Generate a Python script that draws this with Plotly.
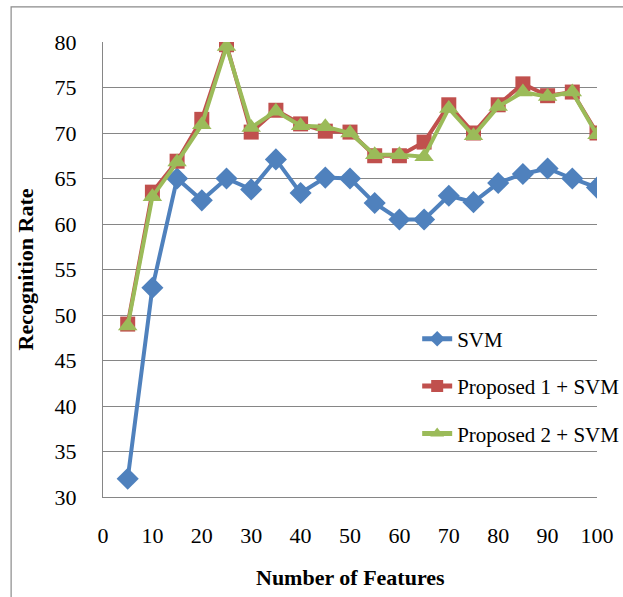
import plotly.graph_objects as go

# Number of features tested
features = [5, 10, 15, 20, 25, 30, 35, 40, 45, 50,
            55, 60, 65, 70, 75, 80, 85, 90, 95, 100]

# Recognition rate (%) per method
svm = [32.0, 53.0, 65.0, 62.6, 65.0, 63.8, 67.1, 63.4, 65.1, 65.0,
       62.3, 60.5, 60.5, 63.1, 62.4, 64.5, 65.5, 66.1, 65.0, 64.0]
proposed1 = [49.0, 63.5, 66.9, 71.5, 79.7, 70.1, 72.5, 71.0, 70.2, 70.1,
             67.5, 67.5, 69.0, 73.1, 70.0, 73.1, 75.4, 74.1, 74.5, 70.0]
proposed2 = [48.8, 63.0, 66.8, 70.9, 79.5, 70.6, 72.4, 70.8, 70.7, 70.0,
             67.6, 67.6, 67.4, 72.7, 69.7, 72.9, 74.5, 74.0, 74.5, 69.8]

names = ["SVM", "Proposed 1 + SVM", "Proposed 2 + SVM"]
x_ticks = [0, 10, 20, 30, 40, 50, 60, 70, 80, 90, 100]
y_ticks = [30, 35, 40, 45, 50, 55, 60, 65, 70, 75, 80]

FONT = "Liberation Serif, Times New Roman, serif"
GRID = "#868686"

series = [
    (svm, names[0], "#4F81BD", "diamond", 17),
    (proposed1, names[1], "#C0504D", "square", 15),
    (proposed2, names[2], "#9BBB59", "triangle-up", 17),
]

fig = go.Figure()
for i, (vals, name, color, sym, size) in enumerate(series):
    fig.add_trace(go.Scatter(
        x=features, y=vals, name=name, mode="lines+markers",
        legendgroup=f"g{i}",
        line=dict(color=color, width=4),
        marker=dict(symbol=sym, size=size, color=color),
    ))

fig.update_layout(
    width=623, height=597,
    margin=dict(l=103, r=26, t=42, b=100, autoexpand=False),
    paper_bgcolor="white", plot_bgcolor="white",
    font=dict(family=FONT, size=22, color="black"),
    showlegend=True,
    legend=dict(
        x=0.636, y=0.392, xanchor="left", yanchor="top",
        bgcolor="rgba(0,0,0,0)", borderwidth=0,
        font=dict(family=FONT, size=21, color="black"),
        traceorder="grouped", tracegroupgap=17,
        itemsizing="constant",
    ),
    xaxis=dict(
        range=[0, 100], tickvals=x_ticks, ticktext=[str(v) for v in x_ticks],
        showgrid=False, zeroline=False,
        showline=True, linecolor=GRID, linewidth=1.3,
        ticks="", ticklabelstandoff=18,
        tickfont=dict(family=FONT, size=22),
    ),
    yaxis=dict(
        range=[30, 80], tickvals=y_ticks,
        showgrid=True, gridcolor=GRID, gridwidth=1.3,
        zeroline=False,
        showline=True, linecolor=GRID, linewidth=1.3,
        ticks="", ticklabelstandoff=21,
        tickfont=dict(family=FONT, size=22),
    ),
    annotations=[
        dict(text="<b>Number of Features</b>", xref="paper", yref="paper",
             x=0.5, y=-0.178, xanchor="center", yanchor="middle",
             showarrow=False, font=dict(family=FONT, size=22)),
        dict(text="<b>Recognition Rate</b>", xref="paper", yref="paper",
             x=-0.156, y=0.5, xanchor="center", yanchor="middle",
             textangle=-90, showarrow=False, font=dict(family=FONT, size=22)),
    ],
    shapes=[
        dict(type="rect", xref="paper", yref="paper",
             x0=-0.186, y0=-0.5, x1=1.2, y1=1.077,
             line=dict(color="#8A8A8A", width=1.2), layer="below"),
    ],
)

fig.write_html("out.html")
